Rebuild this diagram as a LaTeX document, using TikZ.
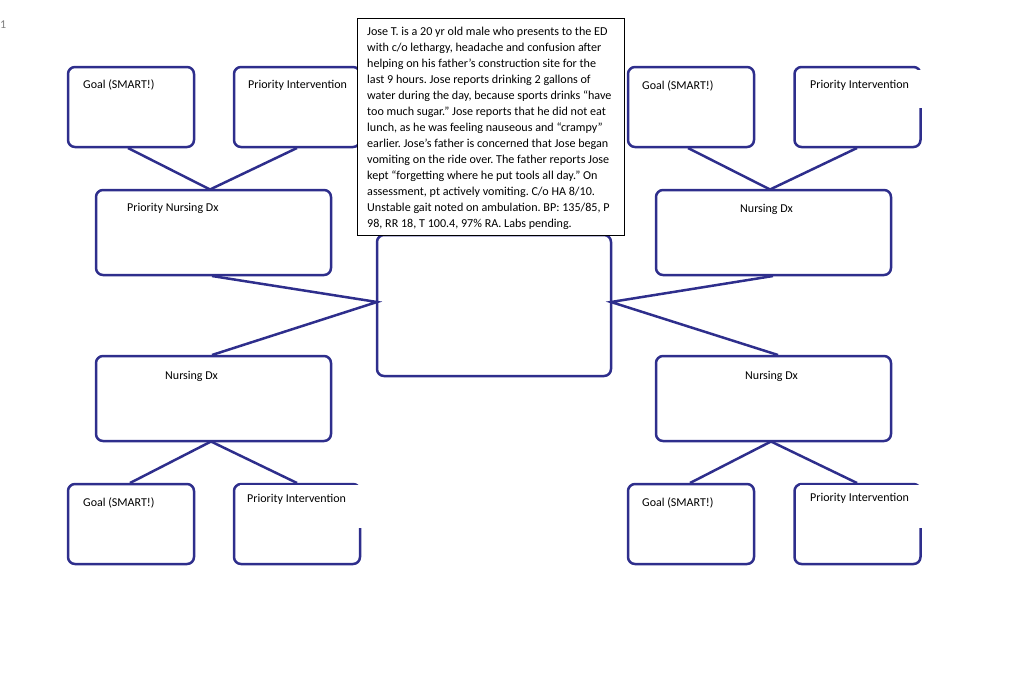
\documentclass[tikz,border=0pt]{standalone}
\usepackage{fontspec}
\setmainfont{Carlito}
\frenchspacing
\definecolor{boxblue}{RGB}{46,46,140}
\begin{document}
\begin{tikzpicture}[x=1pt,y=-1pt,
  box/.style={draw=boxblue, line width=2.5pt, rounded corners=7pt, fill=white, inner sep=0pt},
  small/.style={box, minimum width=126pt, minimum height=80pt},
  big/.style={box, minimum width=235pt, minimum height=85pt},
  lab/.style={font=\fontsize{12}{14}\selectfont, inner sep=0pt, anchor=west},
  patch/.style={fill=white, inner sep=0pt, anchor=north west},
  conn/.style={draw=boxblue, line width=2.5pt}]
\useasboundingbox (0,0) rectangle (1024,672);
\node[text=gray, font=\fontsize{12}{12}\selectfont, anchor=west, inner sep=0pt] (one) at (0,25) {1};

% top-left group
\node[small] (tlg) at (131,107) {};
\node[small] (tlp) at (297,107) {};
\node[big] (tld) at (213.5,232.5) {};
\node[lab] (tlgl) at (83,85) {Goal (SMART!)};
\node[lab] (tlpl) at (248,85) {Priority Intervention};
\node[lab] (tldl) at (127,208) {Priority Nursing Dx};
\coordinate (tldtop) at (210,189.5);
\draw[conn] (128,148) -- (tldtop) -- (297,148);

% top-right group
\node[small] (trg) at (691,107) {};
\node[small] (trp) at (857.5,107) {};
\node[big] (trd) at (773.5,232.5) {};
\node[patch, minimum width=120pt, minimum height=38pt] (trpatch) at (803,70) {};
\node[lab] (trgl) at (642,86) {Goal (SMART!)};
\node[lab] (trpl) at (810,85) {Priority Intervention};
\node[lab] (trdl) at (740,209) {Nursing Dx};
\coordinate (trdtop) at (770,189.5);
\draw[conn] (688,148) -- (trdtop) -- (857,148);

% bottom-left group
\node[big] (bld) at (213.5,398.5) {};
\node[small] (blg) at (131,524) {};
\node[small] (blp) at (297,524) {};
\node[patch, minimum width=125pt, minimum height=43pt] (blpatch) at (240,485) {};
\node[lab] (bldl) at (165,376) {Nursing Dx};
\node[lab] (blgl) at (83,503) {Goal (SMART!)};
\node[lab] (blpl) at (247,499) {Priority Intervention};
\coordinate (bldbot) at (211,441.5);
\draw[conn] (130,483) -- (bldbot) -- (297,483);

% bottom-right group
\node[big] (brd) at (773.5,398.5) {};
\node[small] (brg) at (691,524) {};
\node[small] (brp) at (857.5,524) {};
\node[patch, minimum width=125pt, minimum height=43pt] (brpatch) at (800,485) {};
\node[lab] (brdl) at (745,376) {Nursing Dx};
\node[lab] (brgl) at (642,503) {Goal (SMART!)};
\node[lab] (brpl) at (810,498) {Priority Intervention};
\coordinate (brdbot) at (771,441.5);
\draw[conn] (690,483) -- (brdbot) -- (857,483);

% centre
\node[box, minimum width=234pt, minimum height=141pt] (ctr) at (494,305.5) {};
\coordinate (cl) at (377,302);
\coordinate (cr) at (611,302);
\draw[conn] (212,276) -- (cl) -- (212,355);
\draw[conn] (773,276) -- (cr) -- (778,355);

% case text
\node[draw=black, line width=0.8pt, fill=white, anchor=north west, minimum width=267pt, minimum height=217pt, inner sep=0pt] (case) at (357,18) {};
\node[anchor=north west, inner sep=0pt, align=left, font=\fontsize{12.1}{16}\selectfont] (casetext) at (367,27)
{Jose T. is a 20 yr old male who presents to the ED\\
with c/o lethargy, headache and confusion after\\
helping on his father’s construction site for the\\
last 9 hours. Jose reports drinking 2 gallons of\\
water during the day, because sports drinks “have\\
too much sugar.” Jose reports that he did not eat\\
lunch, as he was feeling nauseous and “crampy”\\
earlier. Jose’s father is concerned that Jose began\\
vomiting on the ride over. The father reports Jose\\
kept “forgetting where he put tools all day.” On\\
assessment, pt actively vomiting. C/o HA 8/10.\\
Unstable gait noted on ambulation. BP: 135/85, P\\
98, RR 18, T 100.4, 97\% RA. Labs pending.};
\end{tikzpicture}
\end{document}
